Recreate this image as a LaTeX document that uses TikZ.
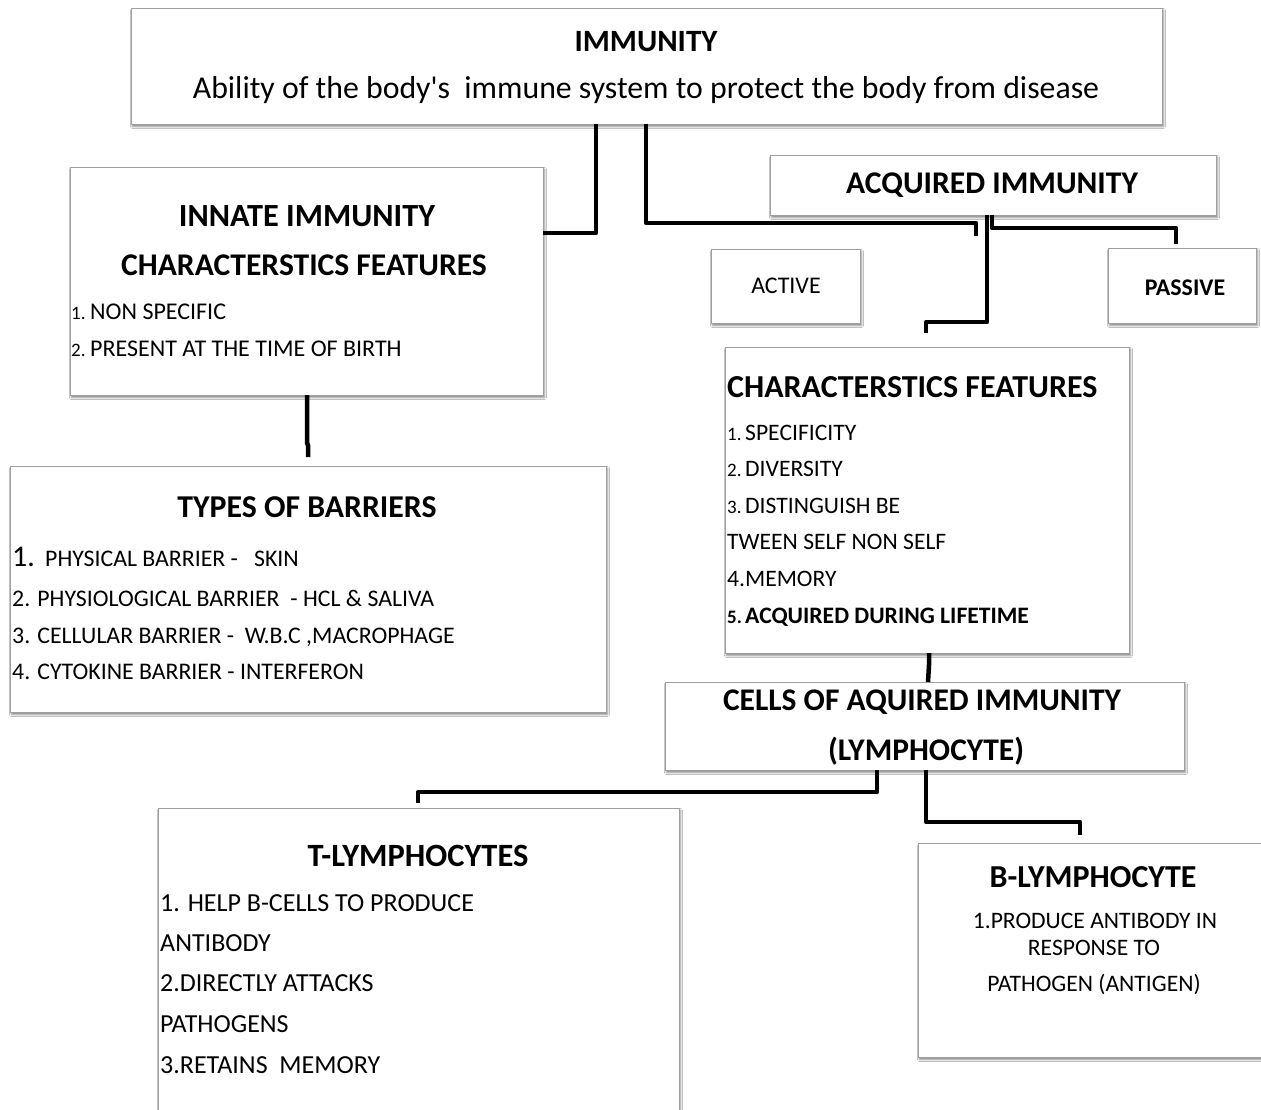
\documentclass[tikz,border=0pt]{standalone}
\usepackage{fontspec}
\setmainfont{Carlito}
\newfontfamily\plainq{Carlito}[Ligatures=ResetAll]
\usetikzlibrary{shadows.blur}
\newcommand{\fsz}[1]{\fontsize{#1}{#1}\selectfont}
\begin{document}
\begin{tikzpicture}[x=1pt,y=-1pt,
 box/.style={draw=gray!75, line width=0.8pt, fill=white,
   blur shadow={shadow xshift=1.5pt,shadow yshift=-2.5pt,shadow blur radius=2pt,shadow opacity=50},
   anchor=north west, inner sep=0pt, outer sep=0pt},
 conn/.style={line width=4.5pt, line join=round},
 lbl/.style={anchor=base, inner sep=0pt},
 item/.style={anchor=base west, inner sep=0pt}]
\useasboundingbox[fill=white] (0,0) rectangle (1261,1110);
% boxes
\node[box, minimum width=1031pt, minimum height=116pt] (imm) at (131,8) {};
\node[box, minimum width=473pt, minimum height=228pt] (innate) at (70,167) {};
\node[box, minimum width=596pt, minimum height=246pt] (types) at (10,466) {};
\node[box, minimum width=446pt, minimum height=60pt] (acq) at (770,155) {};
\node[box, minimum width=149pt, minimum height=74pt] (active) at (711,249) {};
\node[box, minimum width=148pt, minimum height=75pt] (passive) at (1108,248) {};
\node[box, minimum width=404pt, minimum height=306pt] (charf) at (725,347) {};
\node[box, minimum width=519pt, minimum height=88pt] (cells) at (665,682) {};
\node[box, minimum width=521pt, minimum height=330pt] (tly) at (158,808) {};
\node[box, minimum width=360pt, minimum height=214pt] (bly) at (918,843) {};
% connectors
\draw[conn] ([xshift=465pt]imm.south west) |- ([yshift=-66pt]innate.north east);
\draw[conn] ([xshift=515pt]imm.south west) -- ++(0,99) -- ++(330,0) -- ++(0,13) coordinate (acqend);
\draw[conn] ([xshift=217pt]acq.south west) -- ++(0,107) -- ++(-61,0) -- ++(0,11) coordinate (charfend);
\draw[conn] ([xshift=222pt]acq.south west) -- ++(0,13) -- ++(184,0) -- ++(0,16) coordinate (passend);
\draw[conn] ([xshift=237pt]innate.south west) -- ++(0,48) -- ++(1,2) -- ++(0,12) coordinate (typesend);
\draw[conn] ([xshift=204pt]charf.south west) -- ++(0,12) -- ([xshift=263pt]cells.north west);
\draw[conn] ([xshift=212pt]cells.south west) -- ++(0,22) -- ++(-459,0) -- ++(0,11) coordinate (tlyend);
\draw[conn] ([xshift=261pt]cells.south west) -- ++(0,52) -- ++(154,0) -- ++(0,13) coordinate (blyend);
% texts
\node[lbl] (t1) at (646,52) {\fsz{31}\bfseries IMMUNITY};
\node[lbl] (t2) at (646,99) {\fsz{31.8}Ability of the body{\plainq'}s\ \ immune system to protect the body from disease};
\node[lbl] (t3) at (307,227) {\fsz{32.3}\bfseries INNATE IMMUNITY};
\node[lbl] (t4) at (304,276) {\fsz{31.6}\bfseries CHARACTERSTICS FEATURES};
\node[item] (t5) at (71,319) {\makebox[19pt][l]{\fsz{19}1.}\fsz{24}NON SPECIFIC};
\node[item] (t6) at (71,356) {\makebox[19pt][l]{\fsz{19}2.}\fsz{24}PRESENT AT THE TIME OF BIRTH};
\node[lbl] (t7) at (307,517) {\fsz{31.8}\bfseries TYPES OF BARRIERS};
\node[item] (t8) at (12,566) {\makebox[33pt][l]{\fsz{30}1.}\fsz{23.8}PHYSICAL BARRIER -\ \ \ SKIN};
\node[item] (t9) at (12,606) {\fsz{23.8}2. PHYSIOLOGICAL BARRIER\ \ - HCL \& SALIVA};
\node[item] (t10) at (12,643) {\fsz{23.8}3. CELLULAR BARRIER -\ \ W.B.C ,MACROPHAGE};
\node[item] (t11) at (12,679) {\fsz{23.8}4. CYTOKINE BARRIER - INTERFERON};
\node[lbl] (t12) at (992,194) {\fsz{31.6}\bfseries ACQUIRED IMMUNITY};
\node[lbl] (t13) at (786,293) {\fsz{23.9}ACTIVE};
\node[lbl] (t14) at (1185,295) {\fsz{23.9}\bfseries PASSIVE};
\node[item] (t15) at (727,397) {\fsz{32}\bfseries CHARACTERSTICS\ FEATURES};
\node[item] (t16) at (727,440) {\makebox[18pt][l]{\fsz{19}1.}\fsz{23.6}SPECIFICITY};
\node[item] (t17) at (727,476) {\makebox[18pt][l]{\fsz{19}2.}\fsz{23.6}DIVERSITY};
\node[item] (t18) at (727,513) {\makebox[18pt][l]{\fsz{19}3.}\fsz{23.6}DISTINGUISH BE};
\node[item] (t19) at (727,549) {\fsz{23.6}TWEEN SELF NON SELF};
\node[item] (t20) at (727,586) {\fsz{23.6}4.MEMORY};
\node[item] (t21) at (727,623) {\makebox[18pt][l]{\fsz{19}\bfseries 5.}\fsz{23.6}\bfseries ACQUIRED DURING LIFETIME};
\node[lbl] (t22) at (922,710) {\fsz{31.5}\bfseries CELLS OF AQUIRED IMMUNITY};
\node[lbl] (t23) at (926,760) {\fsz{31.5}\bfseries (LYMPHOCYTE)};
\node[lbl] (t24) at (418,866) {\fsz{32.5}\bfseries T-LYMPHOCYTES};
\node[item] (t25) at (160,911) {\fsz{26}1. HELP B-CELLS TO PRODUCE};
\node[item] (t26) at (160,951) {\fsz{26}ANTIBODY};
\node[item] (t27) at (160,991) {\fsz{26}2.DIRECTLY ATTACKS};
\node[item] (t28) at (160,1032) {\fsz{26}PATHOGENS};
\node[item] (t29) at (160,1073) {\fsz{26}3.RETAINS\ \ MEMORY};
\node[lbl] (t30) at (1093,887) {\fsz{32}\bfseries B-LYMPHOCYTE};
\node[lbl] (t31) at (1095,928) {\fsz{23.6}1.PRODUCE ANTIBODY IN};
\node[lbl] (t32) at (1094,955) {\fsz{23.6}RESPONSE TO};
\node[lbl] (t33) at (1094,991) {\fsz{23.6}PATHOGEN (ANTIGEN)};
\end{tikzpicture}
\end{document}
